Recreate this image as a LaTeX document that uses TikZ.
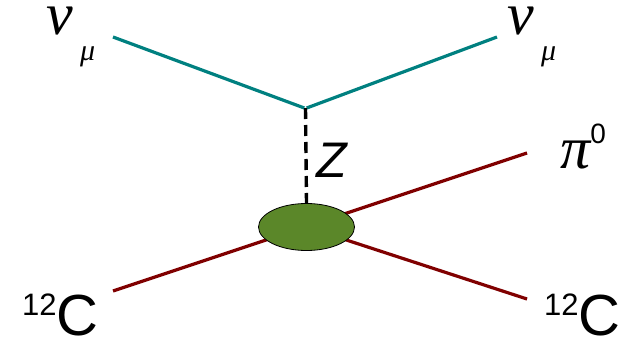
\documentclass[tikz,border=0pt]{standalone}
\usepackage{fontspec}
\setmainfont{Liberation Sans}
\newfontfamily\greekfont{Liberation Serif}
\usetikzlibrary{shapes.geometric}

\definecolor{nuteal}{RGB}{0,128,128}
\definecolor{nucred}{RGB}{128,0,0}
\definecolor{blobgreen}{RGB}{91,135,41}

\newcommand{\fs}[1]{\fontsize{#1}{#1}\selectfont}

\begin{document}
\begin{tikzpicture}[
  x=1pt, y=-1pt,
  lepton/.style={draw=nuteal, line width=3.2pt},
  hadron/.style={draw=nucred, line width=3.2pt},
  boson/.style={draw=black, line width=3.4pt, dash pattern=on 11pt off 6pt},
  blob/.style={ellipse, draw, fill=blobgreen, line width=0.8pt, inner sep=0pt,
               minimum width=96pt, minimum height=47pt},
  lbl/.style={inner sep=0pt, anchor=base west, text depth=0pt}
]
\useasboundingbox (0,0) rectangle (632,345);
% end points
\coordinate (nuin) at (113,37);
\coordinate (nuout) at (497,37);
\coordinate (vtx) at (305.5,108);
\coordinate (ctr) at (306.5,227);
\coordinate (cin) at (113,291);
\coordinate (pion) at (527,153);
\coordinate (cout) at (527,299);
% lines
\draw[lepton] (nuin) -- ([xshift=-1.2pt]vtx);
\draw[lepton] (nuout) -- ([xshift=1.2pt]vtx);
\draw[hadron] (cin) -- (pion);
\draw[hadron] (ctr) -- (cout);
\node[blob] (nucl) at (ctr) {};
\draw[boson] (vtx) -- (nucl.north);
% labels
\node[lbl, text height=28pt] (nul) at (46,35) {\greekfont\itshape\fs{60}ν};
\node[lbl] (mul) at (80,60) {\greekfont\itshape\fs{30}μ};
\node[lbl, text height=28pt] (nur) at (507,35) {\greekfont\itshape\fs{60}ν};
\node[lbl] (mur) at (541,60) {\greekfont\itshape\fs{30}μ};
\node[lbl] (zlab) at (316,177) {\itshape\fs{50}Z};
\node[lbl] (pil) at (560,168) {\greekfont\itshape\fs{60}π\raisebox{25pt}{\fontspec{Liberation Sans}\upshape\fs{28}0}};
\node[lbl] (cl) at (22,335) {\raisebox{20pt}{\fs{31}12}\fs{58}C};
\node[lbl] (cr) at (544,335) {\raisebox{20pt}{\fs{31}12}\fs{58}C};
\end{tikzpicture}
\end{document}
